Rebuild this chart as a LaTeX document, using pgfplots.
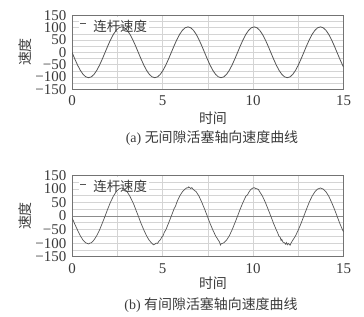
\documentclass[border=0pt]{standalone}
\usepackage{fontspec}
\setmainfont{Liberation Serif}
\newfontfamily\cjk{Noto Sans CJK SC}
\usepackage{pgfplots}
\pgfplotsset{compat=1.18}
\definecolor{txt}{HTML}{3A3A3A}
\definecolor{crv}{HTML}{555555}
\definecolor{grd}{HTML}{D4D4D4}
\pgfplotsset{
  myax/.style={
    scale only axis, width=271.5bp, anchor=south west,
    xmin=0, xmax=15, ymin=-150, ymax=150,
    xtick={0,5,10,15},
    ytick={-150,-100,-50,0,50,100,150},
    yticklabels={−150,−100,−50,0,50,100,150},
    minor xtick={2.5,7.5,12.5},
    minor ytick={-125,-75,-25,25,75,125},
    grid=both,
    major grid style={grd, line width=0.5pt},
    minor grid style={grd, line width=0.5pt},
    major tick length=0pt, minor tick length=0pt,
    axis line style={black!55, line width=0.6pt},
    /pgf/number format/assume math mode=true,
    ticklabel style={font=\fontsize{15}{15}\selectfont, text=txt, inner sep=0pt},
    xticklabel style={yshift=-6.5bp},
    yticklabel style={xshift=-5.5bp},
  },
  overax/.style={
    scale only axis, width=271.5bp, anchor=south west,
    xmin=0, xmax=15, ymin=-150, ymax=150,
    xtick=\empty, ytick=\empty, grid=none,
    axis line style={black!55, line width=0.6pt},
    legend style={at={(axis description cs:0.025,0.975)}, anchor=north west, draw=none, fill=none, inner sep=1bp, font=\cjk\fontsize{13.5}{15}\selectfont, text=txt},
    legend image code/.code={\draw[crv, line width=0.7pt] (0bp,3bp) -- (6bp,3bp); \path[draw=none, fill=none] (0bp,0bp) -- (11bp,0bp);},
    legend cell align=left,
  }
}
\begin{document}
\begin{tikzpicture}[x=1bp,y=1bp]
\path[use as bounding box] (0,0) rectangle (364,317);
% top axis: grid and labels, white patch behind the legend
\begin{axis}[myax, at={(72bp,227.7bp)}, height=74bp]
\fill[white] (axis description cs:0.025,0.975) rectangle (axis description cs:0.285,0.785);
\end{axis}
% top axis: curve and legend
\begin{axis}[overax, at={(72bp,227.7bp)}, height=74bp]
\addplot[crv, line width=0.8pt] coordinates {
(0,0) (0.1525,-26.66) (0.305,-51.5) (0.4575,-72.83) (0.61,-89.2) (0.7625,-99.49) (0.915,-103) (1.0675,-99.49) (1.22,-89.2) (1.3725,-72.83) (1.525,-51.5) (1.6775,-26.66)
(1.83,0) (1.9825,26.66) (2.135,51.5) (2.2875,72.83) (2.44,89.2) (2.5925,99.49) (2.745,103) (2.8975,99.49) (3.05,89.2) (3.2025,72.83) (3.355,51.5) (3.5075,26.66)
(3.66,0) (3.8125,-26.66) (3.965,-51.5) (4.1175,-72.83) (4.27,-89.2) (4.4225,-99.49) (4.575,-103) (4.7275,-99.49) (4.88,-89.2) (5.0325,-72.83) (5.185,-51.5) (5.3375,-26.66)
(5.49,0) (5.6425,26.66) (5.795,51.5) (5.9475,72.83) (6.1,89.2) (6.2525,99.49) (6.405,103) (6.5575,99.49) (6.71,89.2) (6.8625,72.83) (7.015,51.5) (7.1675,26.66)
(7.32,0) (7.4725,-26.66) (7.625,-51.5) (7.7775,-72.83) (7.93,-89.2) (8.0825,-99.49) (8.235,-103) (8.3875,-99.49) (8.54,-89.2) (8.6925,-72.83) (8.845,-51.5) (8.9975,-26.66)
(9.15,0) (9.3025,26.66) (9.455,51.5) (9.6075,72.83) (9.76,89.2) (9.9125,99.49) (10.065,103) (10.2175,99.49) (10.37,89.2) (10.5225,72.83) (10.675,51.5) (10.8275,26.66)
(10.98,0) (11.1325,-26.66) (11.285,-51.5) (11.4375,-72.83) (11.59,-89.2) (11.7425,-99.49) (11.895,-103) (12.0475,-99.49) (12.2,-89.2) (12.3525,-72.83) (12.505,-51.5) (12.6575,-26.66)
(12.81,0) (12.9625,26.66) (13.115,51.5) (13.2675,72.83) (13.42,89.2) (13.5725,99.49) (13.725,103) (13.8775,99.49) (14.03,89.2) (14.1825,72.83) (14.335,51.5) (14.4875,26.66)
(14.64,0) (14.7925,-26.66) (14.945,-51.5) (15,-59.7)
};
\addlegendentry{连杆速度}
\end{axis}
% bottom axis: grid and labels, white patch behind the legend
\begin{axis}[myax, at={(72bp,60.3bp)}, height=81.5bp,
  extra y ticks={0}, extra y tick labels={},
  extra y tick style={grid=major, major grid style={black!45, line width=0.8pt}}]
\fill[white] (axis description cs:0.025,0.975) rectangle (axis description cs:0.285,0.79);
\end{axis}
% bottom axis: curve and legend
\begin{axis}[overax, at={(72bp,60.3bp)}, height=81.5bp]
\addplot[crv, line width=0.7pt] coordinates {
(0,-8) (0.08,-18) (0.1525,-30) (0.305,-52) (0.4575,-73) (0.61,-89) (0.7625,-99) (0.915,-103) (0.99,-100) (1.0675,-99) (1.22,-88) (1.3725,-72) (1.525,-51) (1.6775,-26)
(1.83,0) (1.9825,27) (2.135,52) (2.2875,73) (2.44,89) (2.5925,99.5) (2.745,103) (2.8975,99) (3.05,89) (3.2025,72) (3.355,51) (3.43,40) (3.5075,26)
(3.66,0) (3.8125,-27) (3.965,-51) (4.1175,-73) (4.27,-90) (4.35,-96) (4.4225,-101) (4.5,-106) (4.575,-104) (4.65,-100) (4.7275,-101) (4.8,-93) (4.88,-88) (4.95,-79) (5.0325,-73) (5.1,-60) (5.185,-51) (5.3375,-26)
(5.49,0) (5.6425,27) (5.72,36) (5.795,51) (5.9475,73) (6.1,89) (6.2525,99) (6.35,104) (6.405,103) (6.45,107) (6.5575,101) (6.62,104) (6.71,97) (6.8625,89) (7.015,73) (7.1675,51) (7.32,26)
(7.4725,0) (7.625,-27) (7.7775,-51) (7.93,-73) (8.0825,-89) (8.15,-96) (8.2,-107) (8.235,-103) (8.3,-101) (8.3875,-99) (8.54,-89) (8.6925,-73) (8.845,-51) (8.9975,-26)
(9.15,0) (9.3025,27) (9.455,51) (9.6075,73) (9.7,78) (9.76,86) (9.85,95) (9.9125,99) (10.0,103) (10.065,104) (10.15,101) (10.2175,100) (10.3,97) (10.37,89) (10.5225,73) (10.675,51) (10.8275,26)
(10.98,0) (11.1325,-27) (11.285,-51) (11.35,-60) (11.4375,-75) (11.5,-78) (11.55,-90) (11.59,-86) (11.65,-96) (11.7425,-99) (11.8,-104) (11.85,-98) (11.895,-106) (11.95,-101) (12.0475,-108) (12.1,-100) (12.2,-89) (12.3525,-73) (12.505,-51) (12.6575,-27)
(12.81,0) (12.9625,26) (13.115,52) (13.2675,73) (13.42,89) (13.5725,99) (13.725,103) (13.8775,99) (14.03,89) (14.1825,73) (14.335,51) (14.4875,27)
(14.64,0) (14.7925,-27) (14.945,-51) (15,-58)
};
\addlegendentry{连杆速度}
\end{axis}
% axis titles and captions
\node[text=txt, font=\cjk\fontsize{14}{15}\selectfont, rotate=90] at (25,265) {速度};
\node[text=txt, font=\cjk\fontsize{14}{15}\selectfont, rotate=90] at (25,101) {速度};
\node[text=txt, font=\cjk\fontsize{14}{15}\selectfont] at (213,199) {时间};
\node[text=txt, font=\cjk\fontsize{14}{15}\selectfont] at (213,34) {时间};
\node[text=txt, font=\fontsize{14}{15}\selectfont] at (212,179) {(a) {\cjk 无间隙活塞轴向速度曲线}};
\node[text=txt, font=\fontsize{14}{15}\selectfont] at (211,12) {(b) {\cjk 有间隙活塞轴向速度曲线}};
\end{tikzpicture}
\end{document}
